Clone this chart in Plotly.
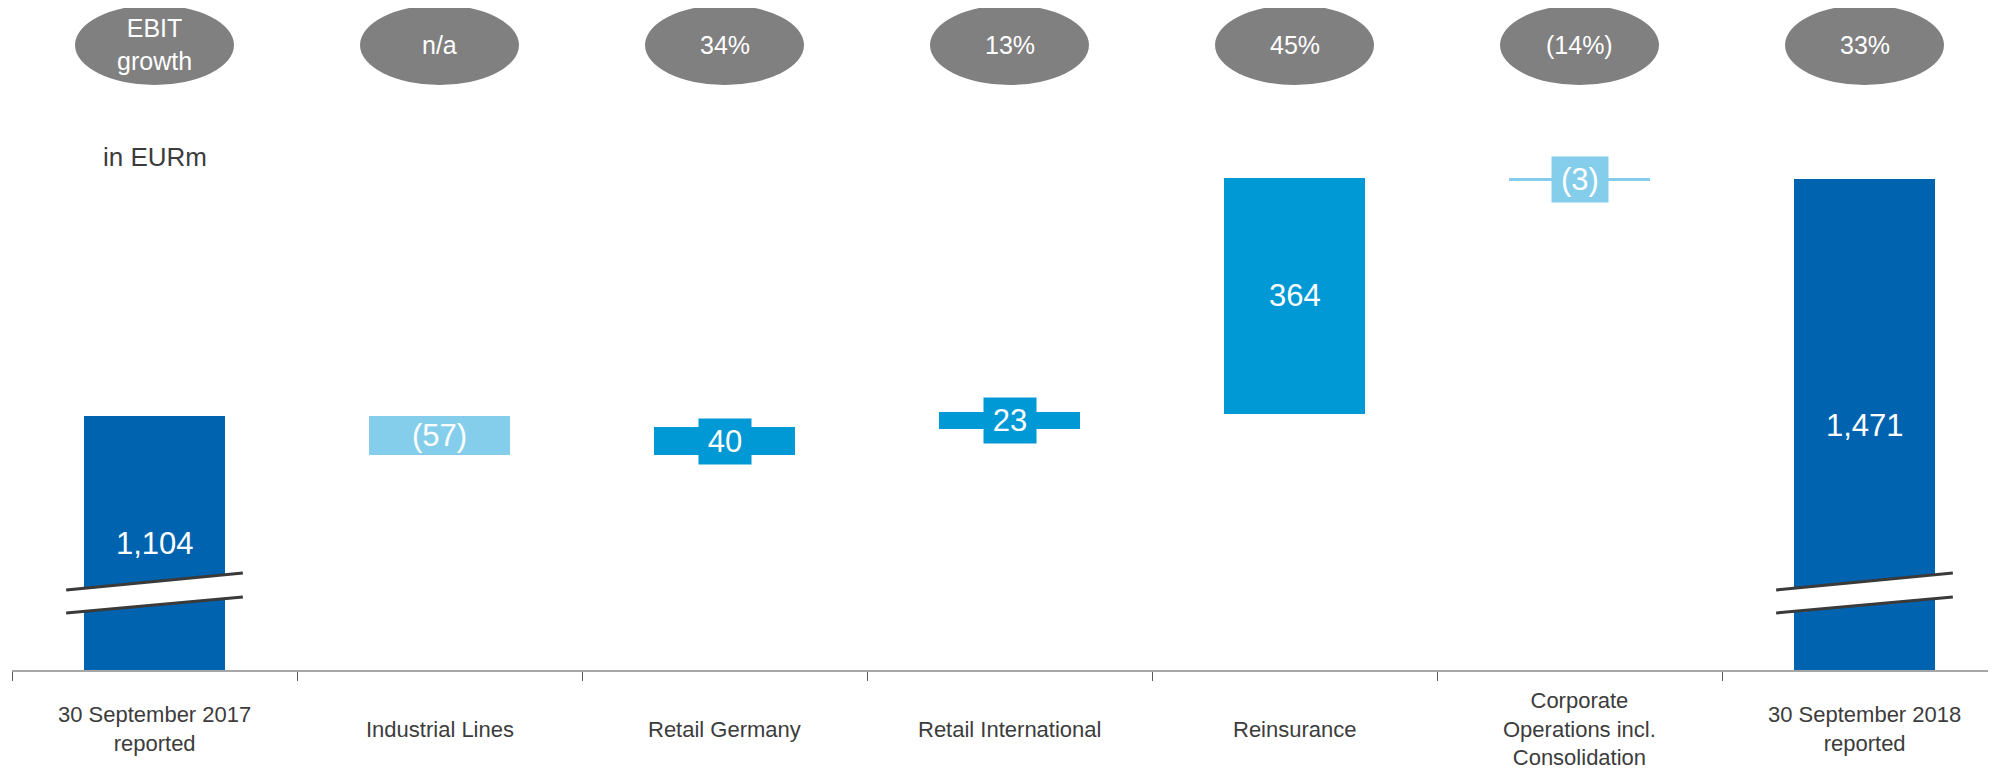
import plotly.graph_objects as go

# ---------------- data ----------------
categories = ["30 September 2017 reported", "Industrial Lines", "Retail Germany",
              "Retail International", "Reinsurance",
              "Corporate Operations incl. Consolidation", "30 September 2018 reported"]
tick_labels = ["30 September 2017<br>reported", "Industrial Lines", "Retail Germany",
               "Retail International", "Reinsurance",
               "Corporate<br>Operations incl.<br>Consolidation", "30 September 2018<br>reported"]
measures = ["total", "relative", "relative", "relative", "relative", "relative", "total"]
values = [1104, -57, 40, 23, 364, -3, 1471]
value_labels = ["1,104", "(57)", "40", "23", "364", "(3)", "1,471"]
growth_labels = ["EBIT<br>growth", "n/a", "34%", "13%", "45%", "(14%)", "33%"]
unit_label = "in EURm"

# ---------------- style ----------------
C_TOTAL = "#0063AF"
C_UP = "#0099D5"
C_DOWN = "#84CEEC"
C_TEXT = "#3C3C3C"
C_ELLIPSE = "#808080"
FONT = "Liberation Sans, Arial, sans-serif"
boxed = [False, False, True, True, False, True, False]
box_w = [0, 0, 52, 52, 0, 56, 0]

OFF = 8                      # page body margin
W, H = 1996 - OFF, 773 - OFF
AXIS_Y = 670                 # axis line position in window pixels
M_L, M_R, M_T = 12 - OFF, 0, 100 - OFF
M_B = H - (AXIS_Y - OFF)
plot_w = W - M_L - M_R
plot_h = H - M_T - M_B
px_per_cat = 285.0
px_per_unit = 0.645
y_min = 712.0
y_max = y_min + plot_h / px_per_unit
x_range = [-0.5, -0.5 + plot_w / px_per_cat]


def py2paper(py):
    """window pixel row -> paper coordinate"""
    return (AXIS_Y - py) / plot_h


# ---------------- compute waterfall ----------------
xs = list(range(len(categories)))
bases, heights, colors = [], [], []
running = 0
for m, v in zip(measures, values):
    if m == "total":
        bases.append(0)
        heights.append(v)
        colors.append(C_TOTAL)
        running = v
    else:
        bases.append(running)
        heights.append(v)
        colors.append(C_UP if v > 0 else C_DOWN)
        running += v

fig = go.Figure()
fig.add_trace(go.Bar(
    x=xs, y=heights, base=bases, width=0.485,
    marker=dict(color=colors, line=dict(width=2, color=colors)),
    hoverinfo="skip", showlegend=False,
))

annotations = []
shapes = []

# value labels
for i, (m, b, h, lab) in enumerate(zip(measures, bases, heights, value_labels)):
    if m == "total":
        yc = (b + h + y_min) / 2.0
    else:
        yc = b + h / 2.0
    ann = dict(x=i, y=yc, xref="x", yref="y", text=lab, showarrow=False,
               font=dict(family=FONT, size=31, color="white"),
               xanchor="center", yanchor="middle")
    if boxed[i]:
        ann.update(bgcolor=colors[i], width=box_w[i], height=45, borderpad=0)
    annotations.append(ann)

# category labels
for i, t in enumerate(tick_labels):
    annotations.append(dict(x=i, y=py2paper(729), xref="x", yref="paper",
                            text=t, showarrow=False, xanchor="center", yanchor="middle",
                            font=dict(family=FONT, size=22, color=C_TEXT)))

# growth ellipses
ell_w = 159 / px_per_cat
y_top = py2paper(5)
y_bot = py2paper(85)
for i, g in enumerate(growth_labels):
    shapes.append(dict(type="circle", xref="x", yref="paper",
                       x0=i - ell_w / 2, x1=i + ell_w / 2, y0=y_bot, y1=y_top,
                       fillcolor=C_ELLIPSE, line=dict(width=0), layer="above"))
    annotations.append(dict(x=i, y=(y_top + y_bot) / 2, xref="x", yref="paper",
                            text=g, showarrow=False, xanchor="center", yanchor="middle",
                            font=dict(family=FONT, size=25, color="white")))

# unit label
annotations.append(dict(x=0, y=py2paper(157), xref="x", yref="paper",
                        text=unit_label, showarrow=False, xanchor="center", yanchor="middle",
                        font=dict(family=FONT, size=26, color=C_TEXT)))

# axis break symbols on total bars
for i, m in enumerate(measures):
    if m != "total":
        continue
    xl, xr = i - 0.31, i + 0.31
    up_l, up_r = py2paper(590), py2paper(573)
    lo_l, lo_r = py2paper(613), py2paper(597)
    shapes.append(dict(type="path", xref="x", yref="paper",
                       path=f"M {xl},{up_l} L {xr},{up_r} L {xr},{lo_r} L {xl},{lo_l} Z",
                       fillcolor="white", line=dict(width=0), layer="above"))
    for a, b in ((up_l, up_r), (lo_l, lo_r)):
        shapes.append(dict(type="line", xref="x", yref="paper", x0=xl, x1=xr, y0=a, y1=b,
                           line=dict(color="#3A3A3A", width=3), layer="above"))

fig.update_layout(
    width=W, height=H,
    margin=dict(l=M_L, r=M_R, t=M_T, b=M_B, pad=0),
    plot_bgcolor="white", paper_bgcolor="white",
    bargap=0, showlegend=False,
    xaxis=dict(range=x_range, showgrid=False, zeroline=False,
               showline=True, linecolor="#A6A6A6", linewidth=2,
               tickmode="array", tickvals=[i - 0.5 for i in range(len(categories) + 1)],
               ticktext=["" for _ in range(len(categories) + 1)],
               ticks="outside", ticklen=9, tickwidth=1, tickcolor="#595959",
               fixedrange=True),
    yaxis=dict(range=[y_min, y_max], visible=False, showgrid=False, zeroline=False),
    annotations=annotations, shapes=shapes,
    font=dict(family=FONT),
)

fig.write_html("out.html")
